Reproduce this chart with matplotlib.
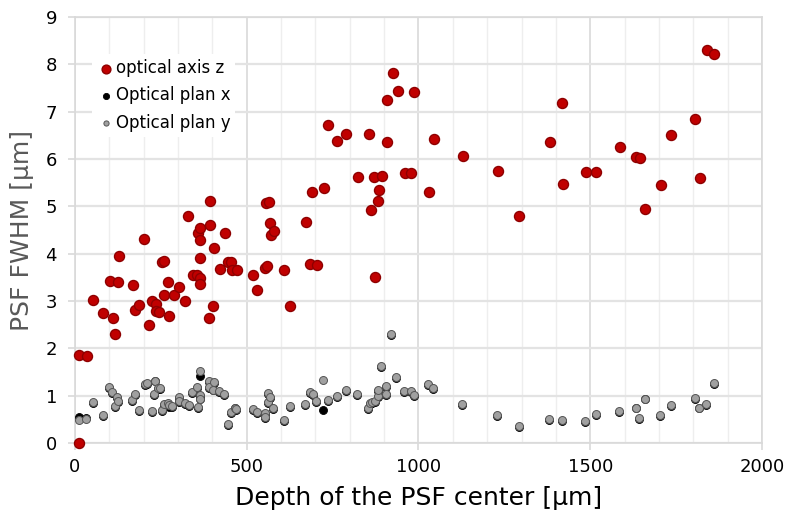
import matplotlib
matplotlib.use("Agg")
import matplotlib.pyplot as plt
from matplotlib.ticker import MultipleLocator

# Datos (profundidad en µm, FWHM en µm)
depth_z = [12, 36, 12, 53, 81, 103, 110, 116, 126, 129, 170, 176, 186, 202, 216,
           225, 236, 236, 245, 254, 259, 259, 271, 274, 288, 302, 320, 330, 344,
           354, 357, 364, 365, 365, 365, 365, 391, 393, 393, 403, 406, 421, 436,
           445, 454, 457, 471, 519, 530, 554, 555, 558, 565, 567, 570, 578, 609,
           625, 673, 683, 690, 706, 724, 738, 764, 789, 824, 855, 861, 871, 872,
           883, 884, 895, 907, 907, 925, 939, 961, 978, 987, 1030, 1045, 1129,
           1232, 1293, 1383, 1418, 1421, 1487, 1517, 1587, 1634, 1646, 1658,
           1706, 1736, 1804, 1819, 1840, 1859]
fwhm_z = [1.85, 1.83, 0.0, 3.03, 2.74, 3.43, 2.64, 2.31, 3.41, 3.96, 3.34, 2.81,
          2.92, 4.31, 2.49, 3.00, 2.93, 2.79, 2.77, 3.82, 3.84, 3.13, 3.41, 2.68,
          3.13, 3.29, 2.99, 4.79, 3.54, 3.54, 4.44, 4.54, 4.28, 3.91, 3.49, 3.35,
          2.64, 5.11, 4.60, 2.90, 4.11, 3.68, 4.44, 3.82, 3.82, 3.65, 3.65, 3.56,
          3.24, 3.70, 5.08, 3.73, 5.09, 4.64, 4.40, 4.48, 3.65, 2.90, 4.68, 3.79,
          5.30, 3.76, 5.39, 6.71, 6.38, 6.52, 5.63, 6.52, 4.93, 5.61, 3.51, 5.11,
          5.34, 5.64, 6.35, 7.25, 7.82, 7.43, 5.71, 5.71, 7.41, 5.30, 6.42, 6.06,
          5.74, 4.80, 6.35, 7.19, 5.47, 5.73, 5.73, 6.26, 6.04, 6.02, 4.94, 5.45,
          6.50, 6.85, 5.59, 8.31, 8.22]

depth_xy = [12, 32, 53, 81, 98, 109, 116, 123, 126, 166, 174, 186, 203, 210, 224,
            231, 234, 241, 247, 253, 260, 270, 274, 283, 302, 302, 320, 332, 341,
            354, 357, 365, 365, 365, 389, 389, 403, 406, 419, 434, 446, 453, 466,
            470, 519, 531, 554, 554, 563, 563, 567, 577, 609, 625, 669, 683, 693,
            702, 721, 738, 762, 788, 821, 852, 858, 865, 872, 881, 881, 891, 905,
            905, 921, 936, 959, 977, 987, 1028, 1043, 1126, 1229, 1293, 1380,
            1417, 1484, 1517, 1584, 1634, 1643, 1658, 1703, 1734, 1804, 1817,
            1837, 1859]
fwhm_x = [0.55, 0.53, 0.84, 0.57, 1.16, 1.06, 0.77, 0.95, 0.86, 0.88, 1.02, 0.68,
          1.22, 1.25, 0.65, 1.01, 1.30, 1.14, 1.14, 0.67, 0.81, 0.83, 0.76, 0.77,
          0.95, 0.87, 0.83, 0.78, 1.05, 1.17, 0.75, 1.42, 1.00, 0.92, 1.29, 1.16,
          1.11, 1.26, 1.08, 1.01, 0.39, 0.63, 0.73, 0.69, 0.70, 0.64, 0.53, 0.61,
          1.03, 0.85, 0.95, 0.72, 0.47, 0.77, 0.81, 1.06, 1.01, 0.87, 0.70, 0.88,
          0.97, 1.10, 1.02, 0.71, 0.82, 0.84, 0.87, 0.97, 1.10, 1.60, 1.18, 1.01,
          2.29, 1.37, 1.07, 1.08, 1.00, 1.22, 1.15, 0.81, 0.58, 0.33, 0.49, 0.46,
          0.45, 0.60, 0.66, 0.73, 0.51, 0.92, 0.58, 0.79, 0.93, 0.73, 0.81, 1.24]
fwhm_y = [0.49, 0.51, 0.86, 0.59, 1.18, 1.08, 0.79, 0.97, 0.89, 0.90, 1.04, 0.70,
          1.24, 1.27, 0.67, 1.03, 1.32, 1.16, 1.16, 0.69, 0.83, 0.85, 0.80, 0.79,
          0.97, 0.89, 0.85, 0.80, 1.07, 1.19, 0.77, 1.53, 1.02, 0.94, 1.31, 1.18,
          1.13, 1.28, 1.10, 1.03, 0.41, 0.65, 0.75, 0.71, 0.72, 0.66, 0.63, 0.55,
          1.05, 0.87, 0.97, 0.74, 0.49, 0.79, 0.83, 1.08, 1.03, 0.89, 1.34, 0.90,
          0.99, 1.12, 1.04, 0.73, 0.84, 0.86, 0.89, 0.99, 1.12, 1.62, 1.20, 1.03,
          2.31, 1.39, 1.09, 1.10, 1.02, 1.24, 1.17, 0.83, 0.60, 0.35, 0.51, 0.48,
          0.47, 0.62, 0.68, 0.75, 0.53, 0.94, 0.60, 0.81, 0.95, 0.75, 0.83, 1.26]

plt.rcParams['font.family'] = ['DejaVu Sans']

fig = plt.figure(figsize=(7.85, 5.19), dpi=100)
ax = fig.add_axes([0.0955, 0.1464, 0.8752, 0.8208])

# Series
ax.scatter(depth_z, fwhm_z, s=52, c='#C00000', edgecolors='#8E0000',
           linewidths=1.0, zorder=3, label='optical axis z', clip_on=False)
ax.scatter(depth_xy, fwhm_x, s=33, c='#000000', edgecolors='#000000',
           linewidths=0.6, zorder=4, label='Optical plan x')
ax.scatter(depth_xy, fwhm_y, s=33, c='#A0A0A0', edgecolors='#555555',
           linewidths=0.7, zorder=5, label='Optical plan y')

# Ejes y cuadrícula
ax.set_xlim(0, 2000)
ax.set_ylim(0, 9)
ax.xaxis.set_major_locator(MultipleLocator(500))
ax.xaxis.set_minor_locator(MultipleLocator(100))
ax.yaxis.set_major_locator(MultipleLocator(1))
ax.grid(True, which='minor', axis='x', color='#EEEEEE', linewidth=1.0, zorder=0)
ax.grid(True, which='major', axis='x', color='#D9D9D9', linewidth=1.2, zorder=0)
ax.grid(True, which='major', axis='y', color='#E3E3E3', linewidth=1.6, zorder=0)
ax.set_axisbelow(True)

for sp in ax.spines.values():
    sp.set_color('#D9D9D9')
    sp.set_linewidth(1.2)

ax.tick_params(axis='both', which='major', direction='out', length=5,
               color='#D9D9D9', width=1.2, labelsize=13, labelcolor='black')
ax.tick_params(axis='x', which='minor', length=0)
ax.tick_params(axis='y', pad=8)
ax.tick_params(axis='x', pad=6)

ax.set_xlabel('Depth of the PSF center [µm]', fontsize=18, color='black', labelpad=7)
ax.set_ylabel('PSF FWHM [µm]', fontsize=18, color='#595959', labelpad=8)

leg = ax.legend(loc='upper left', bbox_to_anchor=(0.013, 0.932), fontsize=12,
                frameon=True, framealpha=1.0, edgecolor='white', fancybox=False,
                handletextpad=0.1, borderpad=0.3, labelspacing=0.55,
                handlelength=1.0)
leg.legend_handles[0].set_sizes([40])
leg.legend_handles[1].set_sizes([20])
leg.legend_handles[2].set_sizes([14])
leg.get_frame().set_linewidth(0)

fig.savefig('out.png', dpi=100)
